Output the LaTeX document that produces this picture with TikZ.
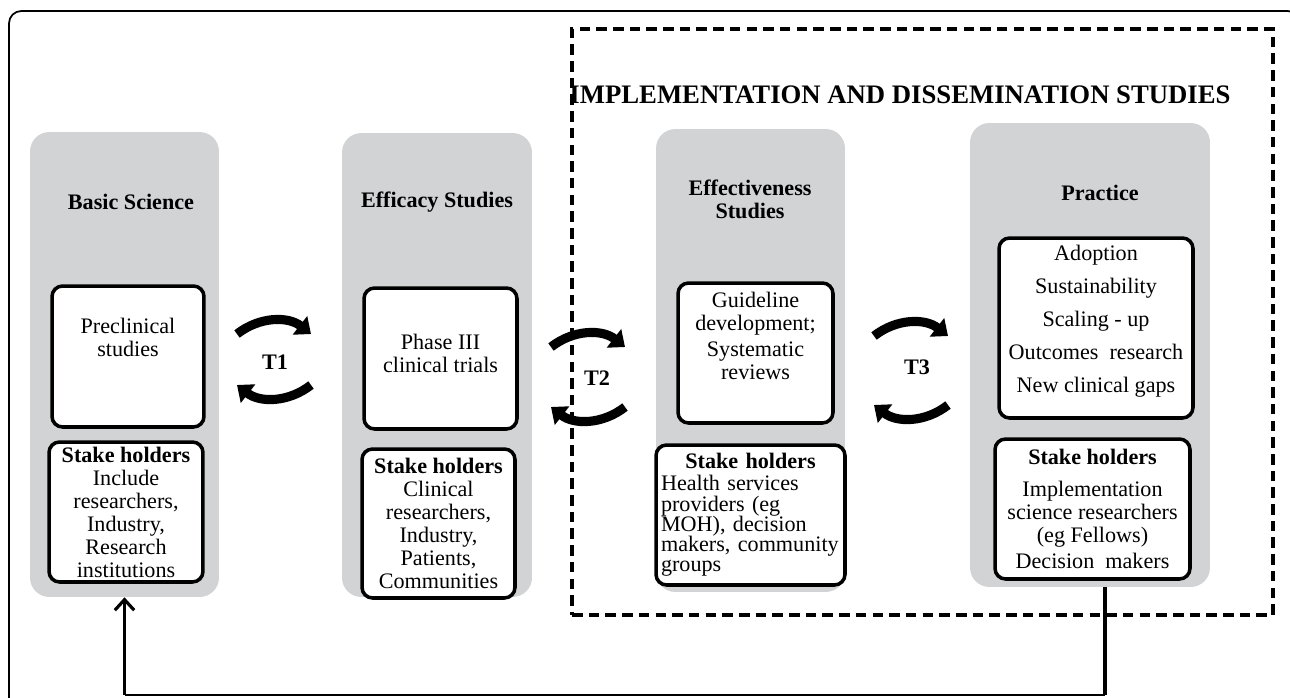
\documentclass[tikz,border=0pt]{standalone}
\usepackage{fontspec}
\setmainfont{Liberation Serif}
\usetikzlibrary{arrows.meta,positioning}
\definecolor{colgray}{RGB}{209,211,212}
\tikzset{
  column/.style={fill=colgray, rounded corners=11pt, inner sep=0pt},
  box/.style={draw, line width=2pt, rounded corners=6pt, fill=white, inner sep=0pt},
  txt/.style={align=center, font=\fontsize{12.6}{13.1}\selectfont},
  head/.style={align=center, font=\fontsize{12.6}{13.1}\selectfont\bfseries},
  dashbox/.style={draw, line width=2.1pt, dash pattern=on 6pt off 3.5pt, inner sep=0pt},
  cyc/.style={line width=5.2pt, -{Triangle[length=8pt,width=13pt]}},
}
\begin{document}
\begin{tikzpicture}[x=0.02cm, y=-0.02cm]
  \useasboundingbox (0,0) rectangle (1290,697);
  \clip (0,0) rectangle (1290,697);
  \draw[line width=1pt, rounded corners=7pt] (9,700) -- (9,11) -- (1300,11) -- (1300,700);

  % Columns
  \node[column, minimum width=3.78cm, minimum height=9.3cm] (basic) at (124.5,364.5) {};
  \node[column, minimum width=3.8cm, minimum height=9.28cm] (effic) at (437,365) {};
  \node[column, minimum width=3.78cm, minimum height=9.26cm] (effect) at (750.5,360.5) {};
  \node[column, minimum width=4.8cm, minimum height=9.28cm] (prac) at (1090,355) {};

  % Titles
  \node[head] (basict) at (131,202) {Basic Science};
  \node[head] (effict) at (437,202) {Efficacy Studies};
  \node[head] (effectt) at (750,199) {Effectiveness\\Studies};
  \node[head] (pract) at (1100,193) {Practice};
  \node[head, font=\fontsize{15.2}{16}\selectfont\bfseries] (implt) at (900,95)
    {IMPLEMENTATION AND DISSEMINATION STUDIES};

  % Study boxes
  \node[box, minimum width=3.04cm, minimum height=2.82cm] (precl) at (128,356.5) {};
  \node[txt] (preclt) at (128,337) {Preclinical\\studies};
  \node[box, minimum width=3.06cm, minimum height=2.82cm] (phase) at (440.5,358.5) {};
  \node[txt] (phaset) at (440.5,353) {Phase III\\clinical trials};
  \node[box, minimum width=3.1cm, minimum height=2.8cm] (guide) at (755.5,353) {};
  \node[txt] (guidet) at (755.5,336) {Guideline\\development;\\[2pt]Systematic\\reviews};
  \node[box, minimum width=3.88cm, minimum height=3.6cm] (outc) at (1096,328) {};
  \node[txt, font=\fontsize{12.6}{18.8}\selectfont] (outct) at (1096,321)
    {Adoption\\Sustainability\\Scaling - up\\Outcomes\ \ research\\New clinical gaps};

  % Stake holders
  \node[box, txt, minimum width=3.08cm, minimum height=2.8cm] (sh1) at (126,512)
    {\textbf{Stake holders}\\Include\\researchers,\\Industry,\\Research\\institutions};
  \node[box, txt, minimum width=3.06cm, minimum height=2.98cm] (sh2) at (438.5,523.5)
    {\textbf{Stake holders}\\Clinical\\researchers,\\Industry,\\Patients,\\Communities};
  \node[box, txt, font=\fontsize{12.6}{11.5}\selectfont, align=left, text width=3.58cm,
    minimum width=3.78cm, minimum height=2.8cm] (sh3) at (750.5,515)
    {\hfill\textbf{Stake holders}\hfill\null\\[1pt]Health services\\providers (eg\\MOH), decision\\makers, community\\groups};
  \node[box, txt, minimum width=3.9cm, minimum height=2.8cm] (sh4) at (1092.5,509)
    {\textbf{Stake holders}\\[5pt]Implementation\\science researchers\\(eg Fellows)\\[2pt]Decision\ \ makers};

  % Implementation frame
  \node[dashbox, minimum width=14.02cm, minimum height=11.72cm] (impl) at (922.5,322) {};

  % Translation cycles
  \foreach \t/\cx/\uy/\ly/\lx/\lyy in {1/274/334/385/275/362, 2/588/347/407/597/378, 3/911/336/405/917/367} {
    \node[head] (T\t) at (\lx,\lyy) {T\t};
    \coordinate (ua\t) at ({\cx-37},\uy);
    \coordinate (ub\t) at ({\cx+37},\uy);
    \coordinate (la\t) at ({\cx+37},\ly);
    \coordinate (lb\t) at ({\cx-37},\ly);
    \draw[cyc] (ua\t) to[bend left=38] (ub\t);
    \draw[cyc] (la\t) to[bend left=38] (lb\t);
  }

  % Feedback
  \coordinate (fb) at (1105,695);
  \draw[line width=2.6pt] (prac.south -| fb) -- (fb);
  \draw[line width=1.2pt] (fb) -- (fb -| basic.south);
  \draw[line width=1.8pt, -{Straight Barb[length=6pt,width=11pt]}] (fb -| basic.south) -- (basic.south);
\end{tikzpicture}
\end{document}
